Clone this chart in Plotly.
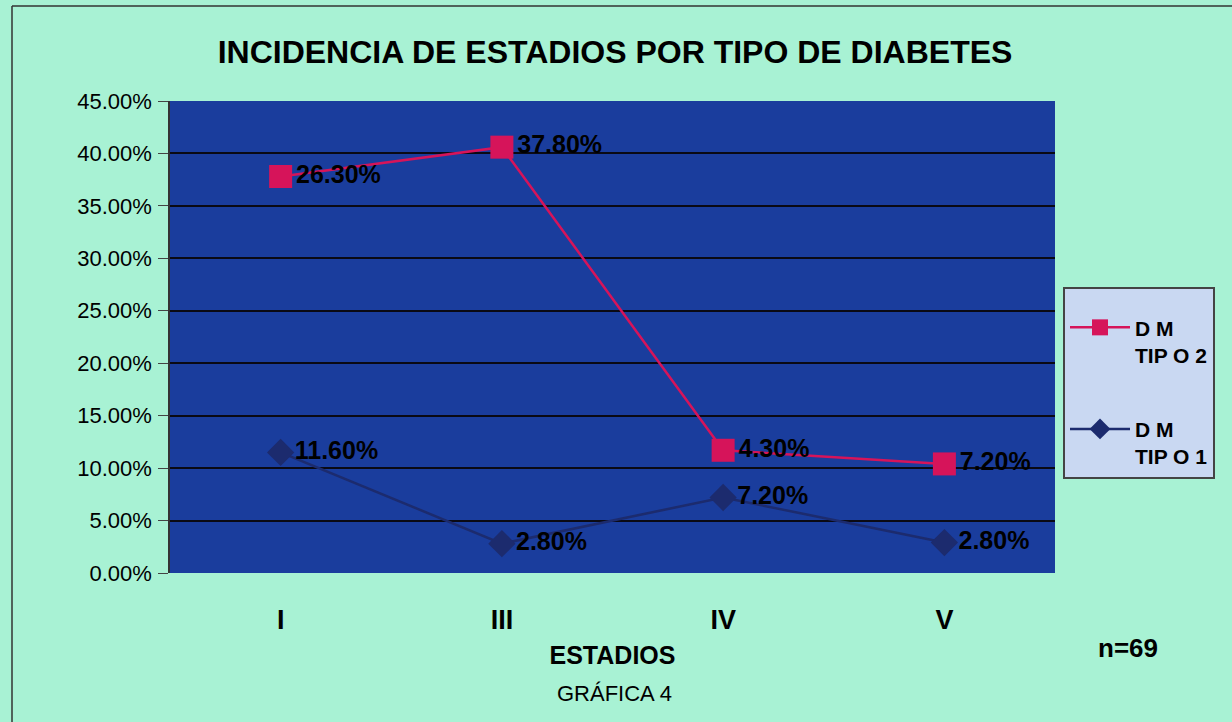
import plotly.graph_objects as go

estadios = ["I", "III", "IV", "V"]
tipo2_vals = [0.378, 0.406, 0.117, 0.104]
tipo2_labels = ["26.30%", "37.80%", "4.30%", "7.20%"]
tipo1_vals = [0.115, 0.028, 0.072, 0.029]
tipo1_labels = ["11.60%", "2.80%", "7.20%", "2.80%"]

FONT = "Arial, Liberation Sans, sans-serif"
BG = "#a8f2d4"
PLOT_BG = "#1a3d9d"
RED = "#d6145a"
NAVY = "#1c2b6e"

fig = go.Figure()
fig.add_trace(go.Scatter(
    x=estadios, y=tipo2_vals, mode="lines+markers+text",
    name="D M<br>TIP O 2", legendgroup="t2",
    text=tipo2_labels, textposition="middle right",
    textfont=dict(family=FONT, size=25, color="#000000", weight="bold"),
    line=dict(color=RED, width=2.5),
    marker=dict(symbol="square", size=23, color=RED),
))
fig.add_trace(go.Scatter(
    x=estadios, y=tipo1_vals, mode="lines+markers+text",
    name="D M<br>TIP O 1", legendgroup="t1",
    text=tipo1_labels, textposition="middle right",
    textfont=dict(family=FONT, size=25, color="#000000", weight="bold"),
    line=dict(color=NAVY, width=2.5),
    marker=dict(symbol="diamond", size=21, color=NAVY),
))

W, H = 1232, 722
L, R, T, B = 170, 1055, 101, 573
def px(x):
    return (x - L) / (R - L)
def py(y):
    return (B - y) / (B - T)

fig.update_layout(
    width=W, height=H,
    margin=dict(l=L, r=W - R, t=T, b=H - B),
    paper_bgcolor=BG, plot_bgcolor=PLOT_BG,
    font=dict(family=FONT, color="#000000"),
    title=dict(text="INCIDENCIA DE ESTADIOS POR TIPO DE DIABETES",
               x=px(615), xref="paper", xanchor="center",
               y=1 - 52 / H, yanchor="middle",
               font=dict(family=FONT, size=32, color="#000000", weight="bold")),
    xaxis=dict(range=[-0.5, 3.5], showgrid=False, zeroline=False,
               tickfont=dict(family=FONT, size=27, color="#000000", weight="bold"),
               ticks="", ticklabelstandoff=28,
               title=dict(text="ESTADIOS", standoff=12,
                          font=dict(family=FONT, size=25, color="#000000", weight="bold")),
               showline=False),
    yaxis=dict(range=[0, 0.45], dtick=0.05, tickformat=".2%",
               showgrid=True, gridcolor="#0a0a14", gridwidth=1.6,
               zeroline=False, ticks="outside", ticklen=10, tickcolor="#444444",
               ticklabelstandoff=2,
               tickfont=dict(family=FONT, size=22, color="#000000"),
               showline=True, linecolor="#333333", linewidth=1.5),
    legend=dict(x=px(1063), xanchor="left", y=py(287), yanchor="top",
                bgcolor="#c9d8f2", bordercolor="#444444", borderwidth=2,
                font=dict(family=FONT, size=21, color="#000000", weight="bold"),
                title=dict(text=" ", font=dict(size=14)),
                traceorder="grouped", tracegroupgap=44, itemwidth=60, valign="top"),
    showlegend=True,
)

fig.add_annotation(text="n=69", xref="paper", yref="paper", x=px(1128), y=py(648),
                   xanchor="center", yanchor="middle",
                   showarrow=False, font=dict(family=FONT, size=26, color="#000000", weight="bold"))
fig.add_annotation(text="GRÁFICA 4", xref="paper", yref="paper", x=px(614), y=py(694),
                   xanchor="center", yanchor="middle",
                   showarrow=False, font=dict(family=FONT, size=22, color="#000000"))

# outer frame
fig.add_shape(type="line", xref="paper", yref="paper", x0=px(12), x1=px(12), y0=py(6), y1=py(730),
              line=dict(color="#333333", width=1.5))
fig.add_shape(type="line", xref="paper", yref="paper", x0=px(12), x1=px(1240), y0=py(6), y1=py(6),
              line=dict(color="#333333", width=1.5))

fig.write_html("out.html")
